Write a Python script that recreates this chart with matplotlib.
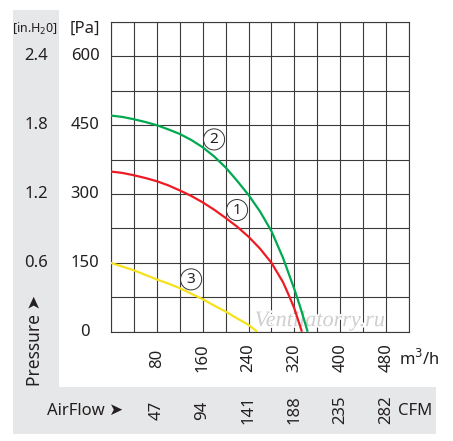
import numpy as np
import matplotlib
matplotlib.use("Agg")
import matplotlib.pyplot as plt
from matplotlib.patches import Rectangle
import matplotlib.transforms as mtransforms
import matplotlib.patheffects as pe

plt.rcParams['font.family'] = ['Noto Sans', 'DejaVu Sans']

# ---- data ----
flow1 = [0, 20, 40, 60, 80, 100, 120, 140, 160, 180, 200, 220, 240, 260, 280, 300, 310, 320, 333]
pres1 = [349, 346, 341, 335, 328, 319, 308, 296, 282, 266, 248, 229, 207, 181, 150, 108, 80, 50, 0]

flow2 = [0, 20, 40, 60, 80, 100, 120, 140, 160, 180, 200, 220, 240, 260, 280, 300, 320, 330, 343]
pres2 = [471, 468, 463, 457, 450, 441, 431, 418, 402, 382, 358, 329, 298, 262, 219, 161, 92, 54, 0]

flow3 = [0, 20, 40, 60, 80, 100, 120, 140, 160, 180, 200, 220, 240, 255]
pres3 = [150, 142, 134, 124, 114, 105, 95, 83, 71, 57, 44, 29, 15, 0]

pa_ticks = [0, 150, 300, 450, 600]
pa_labels = ['0', '150', '300', '450', '600']
inh_labels = ['0.6', '1.2', '1.8', '2.4']
inh_pos = [150, 300, 450, 600]
m3h_ticks = [80, 160, 240, 320, 400, 480]
cfm_labels = ['47', '94', '141', '188', '235', '282']

curve_labels = ['1', '2', '3']
label_pos = [(220, 265), (180, 419), (140, 114)]

W, H = 453, 441
fig = plt.figure(figsize=(W / 100, H / 100), dpi=100)

def fx(px):
    return px / W

def fy(py):
    return 1 - py / H

gray = '#e6e7e8'
txt = '#231f20'
# gray panels
fig.patches.append(Rectangle((fx(13), fy(434)), fx(59) - fx(13), fy(10) - fy(434),
                             transform=fig.transFigure, fc=gray, ec='none', zorder=-10))
fig.patches.append(Rectangle((fx(13), fy(434)), fx(436) - fx(13), fy(387) - fy(434),
                             transform=fig.transFigure, fc=gray, ec='none', zorder=-10))

L, R, T, B = 110.7, 409.3, 21.9, 331.7
ax = fig.add_axes([fx(L), fy(B), fx(R) - fx(L), fy(T) - fy(B)])
ax.patch.set_alpha(0)
ax.set_xlim(0, 520)
ax.set_ylim(0, 675)
ax.set_xticks(np.arange(0, 521, 40))
ax.set_yticks(np.arange(0, 676, 75))
ax.tick_params(length=0, labelbottom=False, labelleft=False)
ax.grid(True, color='#3a3a3a', lw=0.8, zorder=1)
for s in ax.spines.values():
    s.set_color('#3a3a3a')
    s.set_linewidth(0.8)
ax.set_axisbelow(True)

ax.text(364, 22, 'Ventilatorry.ru', family=['Liberation Serif', 'DejaVu Serif'],
        style='italic', fontsize=16, color='#cfcfcf', ha='center', va='center',
        zorder=2, path_effects=[pe.withStroke(linewidth=2.5, foreground='white')])

ax.plot(flow1, pres1, color='#ed1c24', lw=1.6, zorder=3, solid_capstyle='butt',
        solid_joinstyle='round')
ax.plot(flow2, pres2, color='#00a84f', lw=1.6, zorder=3, solid_capstyle='butt',
        solid_joinstyle='round')
ax.plot(flow3, pres3, color='#f5e21b', lw=1.6, zorder=3, solid_capstyle='butt',
        solid_joinstyle='round')

for lab, (x, y) in zip(curve_labels, label_pos):
    ax.text(x, y, lab, fontsize=11, color=txt, ha='center', va='center', zorder=4,
            bbox=dict(boxstyle='circle,pad=0.2', fc='white', ec='#333333', lw=0.7))

# y labels
ty = mtransforms.blended_transform_factory(fig.transFigure, ax.transData)
for v, s in zip(pa_ticks, pa_labels):
    ax.text(fx(85), v, s, transform=ty, fontsize=12, color=txt, ha='center', va='center')
for v, s in zip(inh_pos, inh_labels):
    ax.text(fx(36), v, s, transform=ty, fontsize=12, color=txt, ha='center', va='center')
fig.text(fx(85), fy(29), '[Pa]', fontsize=12, color=txt, ha='center', va='center')
fig.text(fx(35.5), fy(29), '[in.H$_2$0]', fontsize=9, color=txt, ha='center', va='center',
         family=['Liberation Sans Narrow', 'Noto Sans', 'DejaVu Sans'])
fig.text(fx(35), fy(340), 'Pressure \u27a4', fontsize=12.5, color=txt, ha='center',
         va='center', rotation=90, family=['Noto Sans', 'DejaVu Sans'])

# x labels
tx = mtransforms.blended_transform_factory(ax.transData, fig.transFigure)
for v in m3h_ticks:
    ax.text(v, fy(358), str(v), transform=tx, fontsize=12, color=txt, ha='center',
            va='center', rotation=90)
for v, s in zip(m3h_ticks, cfm_labels):
    ax.text(v, fy(410), s, transform=tx, fontsize=12, color=txt, ha='center',
            va='center', rotation=90)
fig.text(fx(399), fy(359), 'm$^3$/h', fontsize=12, color=txt, ha='left', va='center')
fig.text(fx(398), fy(411), 'CFM', fontsize=12, color=txt, ha='left', va='center')
fig.text(fx(47), fy(411), 'AirFlow \u27a4', fontsize=12, color=txt, ha='left', va='center',
         family=['Noto Sans', 'DejaVu Sans'])

fig.savefig('out.png', dpi=100)
